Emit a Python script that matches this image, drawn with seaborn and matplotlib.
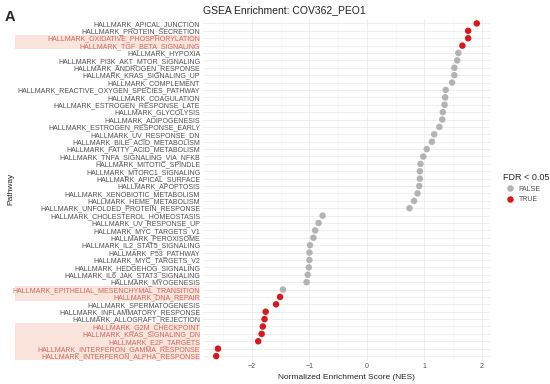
import numpy as np
import pandas as pd
import matplotlib
matplotlib.use("Agg")
import matplotlib.pyplot as plt
import matplotlib.transforms as mtransforms
from matplotlib.patches import Rectangle
from matplotlib.ticker import MultipleLocator
import seaborn as sns

# ----------------------------------------------------------
# Data
# ----------------------------------------------------------
pathways = [
    "APICAL_JUNCTION", "PROTEIN_SECRETION", "OXIDATIVE_PHOSPHORYLATION",
    "TGF_BETA_SIGNALING", "HYPOXIA", "PI3K_AKT_MTOR_SIGNALING",
    "ANDROGEN_RESPONSE", "KRAS_SIGNALING_UP", "COMPLEMENT",
    "REACTIVE_OXYGEN_SPECIES_PATHWAY", "COAGULATION", "ESTROGEN_RESPONSE_LATE",
    "GLYCOLYSIS", "ADIPOGENESIS", "ESTROGEN_RESPONSE_EARLY", "UV_RESPONSE_DN",
    "BILE_ACID_METABOLISM", "FATTY_ACID_METABOLISM", "TNFA_SIGNALING_VIA_NFKB",
    "MITOTIC_SPINDLE", "MTORC1_SIGNALING", "APICAL_SURFACE", "APOPTOSIS",
    "XENOBIOTIC_METABOLISM", "HEME_METABOLISM", "UNFOLDED_PROTEIN_RESPONSE",
    "CHOLESTEROL_HOMEOSTASIS", "UV_RESPONSE_UP", "MYC_TARGETS_V1", "PEROXISOME",
    "IL2_STAT5_SIGNALING", "P53_PATHWAY", "MYC_TARGETS_V2", "HEDGEHOG_SIGNALING",
    "IL6_JAK_STAT3_SIGNALING", "MYOGENESIS", "EPITHELIAL_MESENCHYMAL_TRANSITION",
    "DNA_REPAIR", "SPERMATOGENESIS", "INFLAMMATORY_RESPONSE",
    "ALLOGRAFT_REJECTION", "G2M_CHECKPOINT", "KRAS_SIGNALING_DN", "E2F_TARGETS",
    "INTERFERON_GAMMA_RESPONSE", "INTERFERON_ALPHA_RESPONSE",
]

nes = [
    1.91, 1.76, 1.76, 1.66, 1.59, 1.57, 1.52, 1.52, 1.48, 1.37,
    1.36, 1.35, 1.32, 1.31, 1.26, 1.17, 1.13, 1.04, 0.98, 0.93,
    0.92, 0.92, 0.91, 0.88, 0.82, 0.74, -0.77, -0.84, -0.90, -0.93,
    -0.99, -1.00, -1.00, -1.01, -1.03, -1.05, -1.46, -1.51, -1.58, -1.76,
    -1.78, -1.81, -1.83, -1.89, -2.59, -2.62,
]

significant = [
    "APICAL_JUNCTION", "PROTEIN_SECRETION", "OXIDATIVE_PHOSPHORYLATION",
    "TGF_BETA_SIGNALING", "DNA_REPAIR", "SPERMATOGENESIS",
    "INFLAMMATORY_RESPONSE", "ALLOGRAFT_REJECTION", "G2M_CHECKPOINT",
    "KRAS_SIGNALING_DN", "E2F_TARGETS", "INTERFERON_GAMMA_RESPONSE",
    "INTERFERON_ALPHA_RESPONSE",
]

highlighted = [
    "OXIDATIVE_PHOSPHORYLATION", "TGF_BETA_SIGNALING",
    "EPITHELIAL_MESENCHYMAL_TRANSITION", "DNA_REPAIR", "G2M_CHECKPOINT",
    "KRAS_SIGNALING_DN", "E2F_TARGETS", "INTERFERON_GAMMA_RESPONSE",
    "INTERFERON_ALPHA_RESPONSE",
]

df = pd.DataFrame({
    "Pathway": ["HALLMARK_" + p for p in pathways],
    "NES": nes,
    "FDR < 0.05": ["TRUE" if p in significant else "FALSE" for p in pathways],
})

# ----------------------------------------------------------
# Plot
# ----------------------------------------------------------
sns.set_theme(style="whitegrid")
plt.rcParams["font.family"] = ["Liberation Sans", "DejaVu Sans"]

fig = plt.figure(figsize=(5.5, 3.84), dpi=100)
ax = fig.add_axes([203 / 550, 1 - 360.5 / 384, 287 / 550, (360.5 - 19) / 384])

n = len(df)
sns.scatterplot(data=df, x="NES", y="Pathway", hue="FDR < 0.05",
                hue_order=["FALSE", "TRUE"],
                palette={"FALSE": "#B3B3B3", "TRUE": "#D7191C"},
                s=22, linewidth=0, ax=ax, zorder=3)

ax.set_xlim(-2.85, 2.14)
ax.set_ylim(n - 0.4, -0.6)
ax.set_yticks(range(n))
ax.set_yticklabels(df["Pathway"])
ax.xaxis.set_major_locator(MultipleLocator(1))
ax.xaxis.set_minor_locator(MultipleLocator(0.5))

ax.set_facecolor("white")
ax.grid(which="major", color="#EBEBEB", linewidth=0.6)
ax.grid(which="minor", axis="x", color="#F3F3F3", linewidth=0.4)
for sp in ax.spines.values():
    sp.set_visible(False)
ax.tick_params(axis="both", which="both", length=0, labelsize=5,
               labelcolor="#4D4D4D", pad=2)

# label colours + highlight boxes behind chosen pathways
trans = mtransforms.blended_transform_factory(fig.transFigure, ax.transData)
for i, (p, lab) in enumerate(zip(pathways, ax.get_yticklabels())):
    if p in highlighted:
        lab.set_color("#C8675C")
        ax.add_patch(Rectangle((15 / 550, i - 0.5), 185 / 550, 1.0,
                               transform=trans, facecolor="#FBE4DC",
                               edgecolor="none", clip_on=False, zorder=0))

ax.set_xlabel("Normalized Enrichment Score (NES)", fontsize=6,
              color="#222222", labelpad=3)
ax.set_ylabel("")
fig.text(11 / 550, 1 - 189 / 384, "Pathway", rotation=90, fontsize=6,
         color="#222222", ha="center", va="center")

fig.text(203 / 550, 1 - 10 / 384, "GSEA Enrichment: COV362_PEO1",
         fontsize=7.5, color="#222222", ha="left", va="center")
fig.text(5 / 550, 1 - 17 / 384, "A", fontsize=10.5, fontweight="bold",
         ha="left", va="center")

leg = ax.legend(title="FDR < 0.05", loc="upper left",
                bbox_to_anchor=(497 / 550, 1 - 167 / 384),
                bbox_transform=fig.transFigure, frameon=False,
                fontsize=5, title_fontsize=6.5, handletextpad=0.2,
                labelspacing=0.5, markerscale=1.0)
leg._legend_box.align = "left"
for t in leg.get_texts():
    t.set_color("#4D4D4D")

fig.savefig("out.png", dpi=100)
